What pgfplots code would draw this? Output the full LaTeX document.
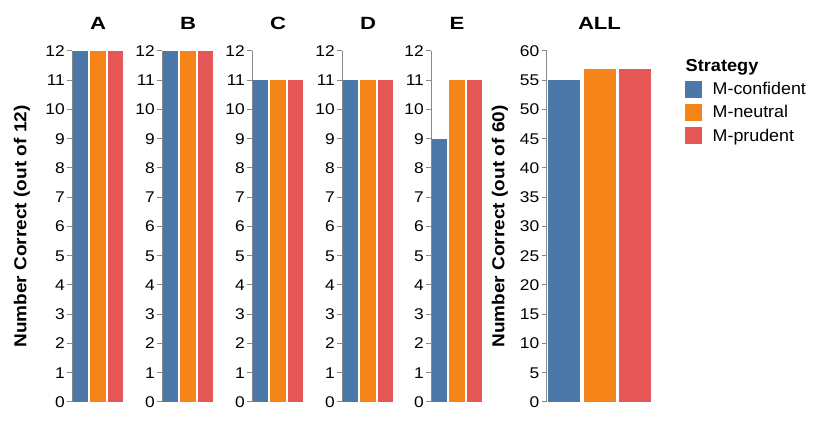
\documentclass[border=0pt]{standalone}
\usepackage{pgfplots}
\pgfplotsset{compat=1.18}
\usepackage{fontspec}
\setmainfont{Liberation Sans}
\newfontfamily\tickfont[FakeStretch=1.12]{Liberation Sans}
\newfontfamily\titlefont[FakeStretch=1.25]{Liberation Sans}
\newfontfamily\labelfont[FakeStretch=1.1]{Liberation Sans}
\newfontfamily\legfont[FakeStretch=1.05]{Liberation Sans}
\definecolor{cblue}{HTML}{4C78A8}
\definecolor{corange}{HTML}{F58518}
\definecolor{cred}{HTML}{E45756}
\definecolor{cgray}{HTML}{888888}
\pgfplotsset{
  panel/.style={
    scale only axis,
    anchor=south west,
    height=351bp,
    ymin=0,
    xmin=-0.5, xmax=2.5,
    axis x line=none,
    axis y line*=left,
    axis line style={draw=cgray, line width=1bp},
    tick align=outside,
    major tick length=5bp,
    ytick style={draw=cgray, line width=1bp},
    yticklabel style={font=\tickfont\fontsize{15.5bp}{18bp}\selectfont, inner xsep=2bp},
    /pgf/number format/assume math mode=true,
    ybar, bar shift=0pt,
    every axis title/.style={at={(rel axis cs:0.5,1)}, anchor=base, yshift=21.5bp,
      font=\titlefont\bfseries\fontsize{17.7bp}{21bp}\selectfont},
    clip=false,
  },
  small/.style={panel, width=52bp, ymax=12, ytick={0,1,...,12}, bar width=15.6bp},
}
\begin{document}
\begin{tikzpicture}
\useasboundingbox (0,0) rectangle (831bp,427bp);
% A
\begin{axis}[small, at={(72bp,25bp)}, title={A},
  ylabel={Number Correct (out of 12)},
  every axis y label/.style={at={(rel axis cs:0,0.5)}, anchor=center, xshift=-50bp, rotate=90,
    font=\labelfont\bfseries\fontsize{17.3bp}{20bp}\selectfont}]
\addplot[fill=cblue, draw=none] coordinates {(0,12)};
\addplot[fill=corange, draw=none] coordinates {(1,12)};
\addplot[fill=cred, draw=none] coordinates {(2,12)};
\end{axis}
% B
\begin{axis}[small, at={(162bp,25bp)}, title={B}]
\addplot[fill=cblue, draw=none] coordinates {(0,12)};
\addplot[fill=corange, draw=none] coordinates {(1,12)};
\addplot[fill=cred, draw=none] coordinates {(2,12)};
\end{axis}
% C
\begin{axis}[small, at={(252bp,25bp)}, title={C}]
\addplot[fill=cblue, draw=none] coordinates {(0,11)};
\addplot[fill=corange, draw=none] coordinates {(1,11)};
\addplot[fill=cred, draw=none] coordinates {(2,11)};
\end{axis}
% D
\begin{axis}[small, at={(342bp,25bp)}, title={D}]
\addplot[fill=cblue, draw=none] coordinates {(0,11)};
\addplot[fill=corange, draw=none] coordinates {(1,11)};
\addplot[fill=cred, draw=none] coordinates {(2,11)};
\end{axis}
% E
\begin{axis}[small, at={(431bp,25bp)}, title={E}]
\addplot[fill=cblue, draw=none] coordinates {(0,9)};
\addplot[fill=corange, draw=none] coordinates {(1,11)};
\addplot[fill=cred, draw=none] coordinates {(2,11)};
\end{axis}
% ALL
\begin{axis}[panel, at={(546.5bp,25bp)}, width=106bp, ymax=60, ytick={0,5,...,60},
  bar width=32bp, title={ALL},
  ylabel={Number Correct (out of 60)},
  every axis y label/.style={at={(rel axis cs:0,0.5)}, anchor=center, xshift=-46.5bp, rotate=90,
    font=\labelfont\bfseries\fontsize{17.3bp}{20bp}\selectfont},
  legend style={at={(rel axis cs:1,1)}, anchor=north west, xshift=32bp, yshift=-6bp,
    draw=none, fill=none, font=\legfont\fontsize{17bp}{19bp}\selectfont,
    row sep=5.5bp, inner xsep=0pt, inner ysep=0pt,
    /tikz/every odd column/.append style={column sep=-18bp},
    cells={anchor=west}},
  legend image code/.code={\fill[#1] (0bp,-8.5bp) rectangle (17bp,8.5bp);},
  legend cell align=left]
\addlegendimage{empty legend}
\addlegendentry[font=\legfont\bfseries\fontsize{17.3bp}{20bp}\selectfont, xshift=-27bp, yshift=6bp]{Strategy}
\addplot[fill=cblue, draw=none] coordinates {(0,55)};
\addlegendentry{M-confident}
\addplot[fill=corange, draw=none] coordinates {(1,57)};
\addlegendentry{M-neutral}
\addplot[fill=cred, draw=none] coordinates {(2,57)};
\addlegendentry{M-prudent}
\end{axis}
\end{tikzpicture}
\end{document}
